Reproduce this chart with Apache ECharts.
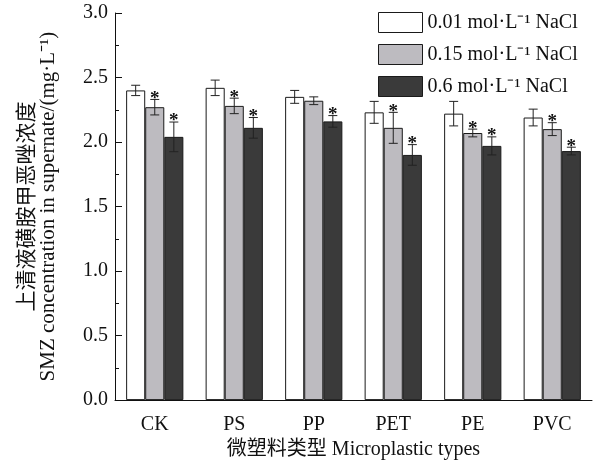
<!DOCTYPE html>
<html>
<head>
<meta charset="utf-8">
<script src="https://cdn.jsdelivr.net/npm/echarts@6/dist/echarts.min.js"></script>
<style>html,body{margin:0;padding:0;background:#fff}#c{width:599px;height:465px}</style>
</head>
<body>
<div id="c"></div>
<script>
var categories = ['CK', 'PS', 'PP', 'PET', 'PE', 'PVC'];
var seriesNames = ['0.01 mol·L⁻¹ NaCl', '0.15 mol·L⁻¹ NaCl', '0.6 mol·L⁻¹ NaCl'];
var lowVals  = [2.40, 2.42, 2.35, 2.23, 2.22, 2.19];
var lowErr   = [0.04, 0.06, 0.05, 0.085, 0.095, 0.065];
var midVals  = [2.27, 2.28, 2.32, 2.11, 2.07, 2.10];
var midErr   = [0.06, 0.06, 0.03, 0.12, 0.03, 0.05];
var highVals = [2.04, 2.11, 2.16, 1.90, 1.97, 1.93];
var highErr  = [0.115, 0.08, 0.045, 0.08, 0.07, 0.03];
var lowSig   = [0, 0, 0, 0, 0, 0];
var midSig   = [1, 1, 0, 1, 1, 1];
var highSig  = [1, 1, 1, 1, 1, 1];
var yTicks = [0, 0.5, 1.0, 1.5, 2.0, 2.5, 3.0];

var FONT = '"Liberation Serif", "Times New Roman", "Noto Sans CJK SC", serif';
var colors = ['#ffffff', '#bdbbc0', '#3a3a3a'];
var vals = [lowVals, midVals, highVals];
var errs = [lowErr, midErr, highErr];
var sigs = [lowSig, midSig, highSig];

var chart = echarts.init(document.getElementById('c'), null, {renderer: 'canvas'});
var series = [];
for (var s = 0; s < 3; s++) {
  series.push({
    name: seriesNames[s], type: 'bar', data: vals[s],
    barWidth: '24%', barGap: '0%',
    itemStyle: {color: colors[s], borderColor: '#1a1a1a', borderWidth: 1},
    emphasis: {disabled: true}
  });
}
for (var s2 = 0; s2 < 3; s2++) {
  (function (si) {
    var d = categories.map(function (c, i) { return [i, vals[si][i], errs[si][i], sigs[si][i]]; });
    series.push({
      type: 'custom', data: d, z: 10, silent: true,
      renderItem: function (params, api) {
        var idx = api.value(0), m = api.value(1), e = api.value(2), sg = api.value(3);
        var band = api.size([1, 0])[0];
        var bw = band * 0.24;
        var cx = api.coord([idx, m])[0] + (si - 1) * bw;
        var yt = api.coord([idx, m + e])[1];
        var yb = api.coord([idx, m - e])[1];
        var hw = 4.5;
        var st = {stroke: '#222', lineWidth: 1};
        var children = [
          {type: 'line', shape: {x1: cx, y1: yt, x2: cx, y2: yb}, style: st},
          {type: 'line', shape: {x1: cx - hw, y1: yt, x2: cx + hw, y2: yt}, style: st},
          {type: 'line', shape: {x1: cx - hw, y1: yb, x2: cx + hw, y2: yb}, style: st}
        ];
        if (sg) {
          children.push({type: 'text', style: {text: '*', x: cx, y: yt + 9, align: 'center', verticalAlign: 'bottom', font: 'bold 19px ' + FONT, fill: '#111'}});
        }
        return {type: 'group', children: children};
      }
    });
  })(s2);
}

chart.setOption({
  animation: false,
  backgroundColor: '#fff',
  grid: {left: 115, right: 7, top: 13, bottom: 64, containLabel: false},
  legend: {
    data: seriesNames, orient: 'vertical', left: 373, top: 7, icon: 'rect',
    itemWidth: 44, itemHeight: 20, itemGap: 11,
    itemStyle: {borderColor: '#1a1a1a', borderWidth: 1},
    textStyle: {fontFamily: FONT, fontSize: 20, color: '#111'},
    selectedMode: false
  },
  xAxis: [{
    type: 'category', data: categories,
    axisLine: {lineStyle: {color: '#111', width: 1}},
    axisTick: {inside: true, alignWithLabel: true, length: 7, lineStyle: {color: '#111'}},
    axisLabel: {fontFamily: FONT, fontSize: 20, color: '#111', margin: 15},
    name: '微塑料类型 Microplastic types', nameLocation: 'middle', nameGap: 37,
    nameTextStyle: {fontFamily: FONT, fontSize: 20, color: '#111'}
  }, {
    type: 'category', data: categories, position: 'bottom',
    axisLine: {show: false},
    axisTick: {inside: true, length: 4, lineStyle: {color: '#111'}},
    axisLabel: {show: false}
  }],
  yAxis: {
    type: 'value', min: 0, max: 3, interval: 0.5,
    axisLine: {show: true, lineStyle: {color: '#111', width: 1}},
    axisTick: {show: true, inside: true, length: 7, lineStyle: {color: '#111'}},
    minorTick: {show: true, splitNumber: 2, length: 4, lineStyle: {color: '#111'}},
    splitLine: {show: false},
    axisLabel: {fontFamily: FONT, fontSize: 20, color: '#111', margin: 7,
      formatter: function (v) { return v.toFixed(1); }},
    name: '上清液磺胺甲恶唑浓度\nSMZ concentration in supernate/(mg·L⁻¹)',
    nameLocation: 'middle', nameGap: 56, nameRotate: 90,
    nameTextStyle: {fontFamily: FONT, fontSize: 21, color: '#111', lineHeight: 21}
  },
  series: series
});
</script>
</body>
</html>
